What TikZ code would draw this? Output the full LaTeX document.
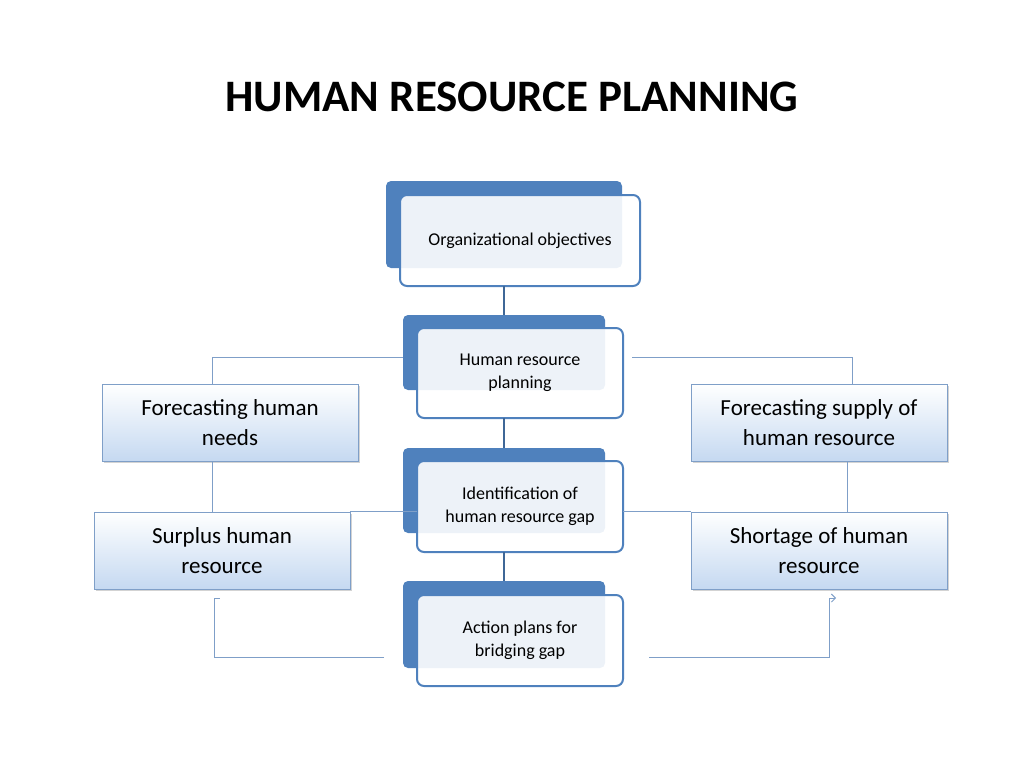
\documentclass[tikz,border=0pt]{standalone}
\usepackage{fontspec}
\setmainfont{Carlito}
\usetikzlibrary{shadows,arrows.meta}
\definecolor{dk}{HTML}{4F81BD}
\definecolor{ln}{HTML}{7F9FC8}
\definecolor{lb}{HTML}{C5D9F1}
\tikzset{x=1pt,y=-1pt,
 back/.style={fill=dk,rounded corners=5pt},
 front/.style={draw=dk,line width=2pt,fill=white,fill opacity=0.9,text opacity=1,rounded corners=7pt,align=center,font=\fontsize{18}{23}\selectfont},
 side/.style={draw=ln,line width=0.6pt,top color=white,bottom color=lb,align=center,font=\fontsize{23}{30}\selectfont,drop shadow={shadow xshift=1.5pt,shadow yshift=-1.5pt,opacity=0.35}},
 thin/.style={draw=ln,line width=0.9pt},
 vc/.style={draw=dk!80!black,line width=2.5pt}}
\begin{document}
\begin{tikzpicture}
\useasboundingbox (0,0) rectangle (1024,768);
\node[font=\fontsize{45}{50}\selectfont\bfseries] (t) at (512,97) {HUMAN RESOURCE PLANNING};
% central
\fill[back] (386,181) rectangle (622,268);
\node[front,minimum width=240pt,minimum height=91pt] (c1) at (520,240.5) {Organizational objectives};
\fill[back] (403,315) rectangle (605,390);
\node[front,minimum width=206pt,minimum height=90pt] (c2) at (520,373) {Human resource\\planning};
\fill[back] (403,448) rectangle (605,533);
\node[front,minimum width=206pt,minimum height=91pt] (c3) at (520,506.5) {Identification of\\human resource gap};
\fill[back] (403,581) rectangle (605,668);
\node[front,minimum width=206pt,minimum height=91pt] (c4) at (520,640.5) {Action plans for\\bridging gap};
\draw[vc] (504,286)--(504,315) (504,418)--(504,448) (504,552)--(504,581);
% sides
\node[side,minimum width=256pt,minimum height=77pt] (l1) at (230,422.5) {Forecasting human\\needs};
\node[side,minimum width=256pt,minimum height=77pt] (r1) at (819,422.5) {Forecasting supply of\\human resource};
\node[side,minimum width=256pt,minimum height=77pt] (l2) at (222,550.5) {Surplus human\\resource};
\node[side,minimum width=256pt,minimum height=77pt] (r2) at (819,550.5) {Shortage of human\\resource};
\draw[thin] (403,357)--(212,357)--(212,384);
\draw[thin] (632,357)--(852,357)--(852,384);
\draw[thin] (212,461)--(212,512);
\draw[thin] (847,461)--(847,512);
\draw[thin] (350,511)--(417,511) (623,511)--(691,511);
\draw[thin] (384,657)--(214,657)--(214,598)--(220,598);
\draw[thin,-{Straight Barb[length=4pt]}] (649,657)--(829,657)--(829,598)--(836,598);
\end{tikzpicture}
\end{document}
